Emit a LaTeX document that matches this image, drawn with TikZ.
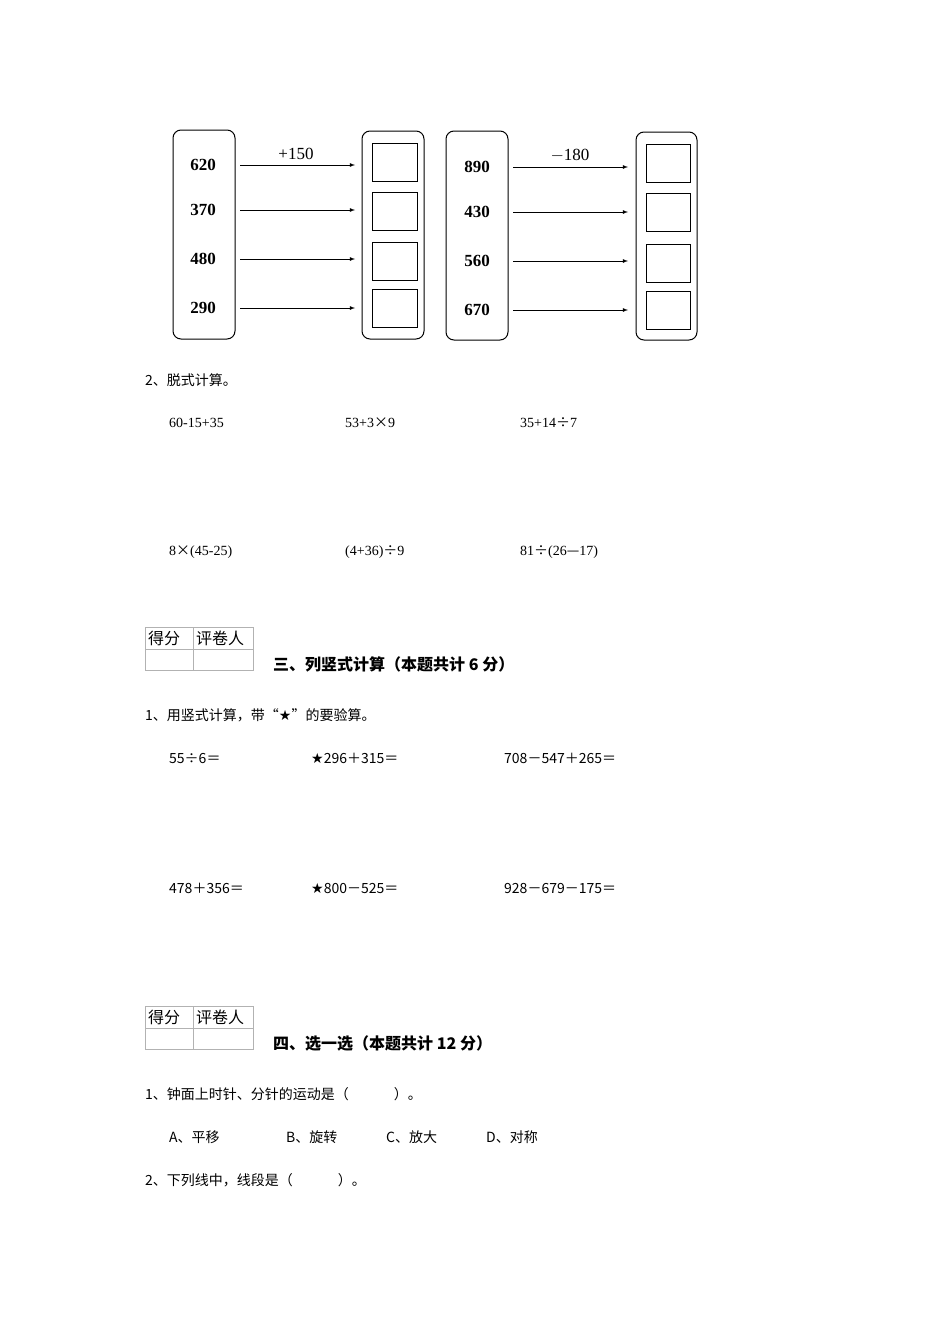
\documentclass[tikz,border=0pt]{standalone}
\usepackage{fontspec}
\setmainfont{Liberation Serif}
\newfontfamily\cjk{Noto Sans CJK SC}
\newfontfamily\sym{DejaVu Sans}
\begin{document}
\begin{tikzpicture}[x=1pt,y=-1pt,
 col/.style={draw,rounded corners=8pt,line width=1pt},
 sq/.style={draw,line width=0.8pt},
 num/.style={font=\fontsize{17}{17}\selectfont\bfseries},
 arr/.style={-latex,line width=0.8pt},
 txt/.style={anchor=west,inner sep=0pt,font=\fontsize{14}{14}\selectfont\cjk},
 hd/.style={anchor=west,inner sep=0pt,font=\fontsize{16}{16}\selectfont\cjk\bfseries},
 tab/.style={draw=gray!60,line width=0.6pt}]
\useasboundingbox (0,0) rectangle (950,1344);
\fill[white] (0,0) rectangle (950,1344);
% left group
\node[col,minimum width=62,minimum height=209] (c1) at (204,234.5) {};
\node[col,minimum width=62,minimum height=208] (c2) at (393,235) {};
\node[col,minimum width=62,minimum height=209] (c3) at (477,235.5) {};
\node[col,minimum width=61,minimum height=208] (c4) at (666.5,236) {};
\foreach \n/\y [count=\i] in {620/165,370/210,480/259,290/308}{
 \node[num] (a\i) at (203,\y) {\n};
 \coordinate (as\i) at (240,\y); \coordinate (ae\i) at (355,\y);
 \draw[arr] (as\i) -- (ae\i);}
\foreach \y [count=\i] in {162,211,261,308.5}{
 \node[sq,minimum width=45,minimum height=38] (b\i) at (394.5,\y) {};}
\node[num,font=\fontsize{17}{17}\selectfont] (l1) at (296,154) {+150};
\foreach \n/\y [count=\i] in {890/167,430/212,560/261,670/310}{
 \node[num] (d\i) at (477,\y) {\n};
 \coordinate (ds\i) at (513,\y); \coordinate (de\i) at (628,\y);
 \draw[arr] (ds\i) -- (de\i);}
\foreach \y [count=\i] in {163.5,212,263,310.5}{
 \node[sq,minimum width=44,minimum height=38] (e\i) at (668,\y) {};}
\node[num,font=\fontsize{17}{17}\selectfont] (l2) at (570,156) {$-$180};
% section 2
\node[txt] (t1) at (145,380) {2、脱式计算。};
\node[txt,font=\fontsize{14}{14}\selectfont] (p1) at (169,423) {60-15+35};
\node[txt,font=\fontsize{14}{14}\selectfont] (p2) at (345,423) {53+3{\cjk ×}9};
\node[txt,font=\fontsize{14}{14}\selectfont] (p3) at (520,423) {35+14{\cjk ÷}7};
\node[txt,font=\fontsize{14}{14}\selectfont] (p4) at (169,552) {8{\cjk ×}(45-25)};
\node[txt,font=\fontsize{14}{14}\selectfont] (p5) at (345,552) {(4+36){\cjk ÷}9};
\node[txt,font=\fontsize{14}{14}\selectfont] (p6) at (520,552) {81{\cjk ÷}(26{\cjk —}17)};
% table 1
\draw[tab] (145,627) rectangle (253,670); \draw[tab] (145,649)--(253,649); \draw[tab] (193,627)--(193,670);
\node[txt,font=\fontsize{16}{16}\selectfont\cjk] (g1) at (148,638) {得分};
\node[txt,font=\fontsize{16}{16}\selectfont\cjk] (g2) at (196,638) {评卷人};
\node[hd] (h3) at (273,664) {三、列竖式计算（本题共计 6 分）};
\node[txt] (t2) at (145,715) {1、用竖式计算，带“{\sym ★}”的要验算。};
\node[txt] (q1) at (169,758) {55÷6＝};
\node[txt] (q2) at (311,758) {{\sym ★}296＋315＝};
\node[txt] (q3) at (504,758) {708－547＋265＝};
\node[txt] (q4) at (169,888) {478＋356＝};
\node[txt] (q5) at (311,888) {{\sym ★}800－525＝};
\node[txt] (q6) at (504,888) {928－679－175＝};
% table 2
\draw[tab] (145,1006) rectangle (253,1049); \draw[tab] (145,1028)--(253,1028); \draw[tab] (193,1006)--(193,1049);
\node[txt,font=\fontsize{16}{16}\selectfont\cjk] (g3) at (148,1017) {得分};
\node[txt,font=\fontsize{16}{16}\selectfont\cjk] (g4) at (196,1017) {评卷人};
\node[hd] (h4) at (273,1043) {四、选一选（本题共计 12 分）};
\node[txt] (t3) at (145,1094) {1、钟面上时针、分针的运动是（\hspace{3.2em}）。};
\node[txt] (o1) at (169,1137) {A、平移};
\node[txt] (o2) at (286,1137) {B、旋转};
\node[txt] (o3) at (386,1137) {C、放大};
\node[txt] (o4) at (486,1137) {D、对称};
\node[txt] (t4) at (145,1180) {2、下列线中，线段是（\hspace{3.2em}）。};
\end{tikzpicture}
\end{document}
